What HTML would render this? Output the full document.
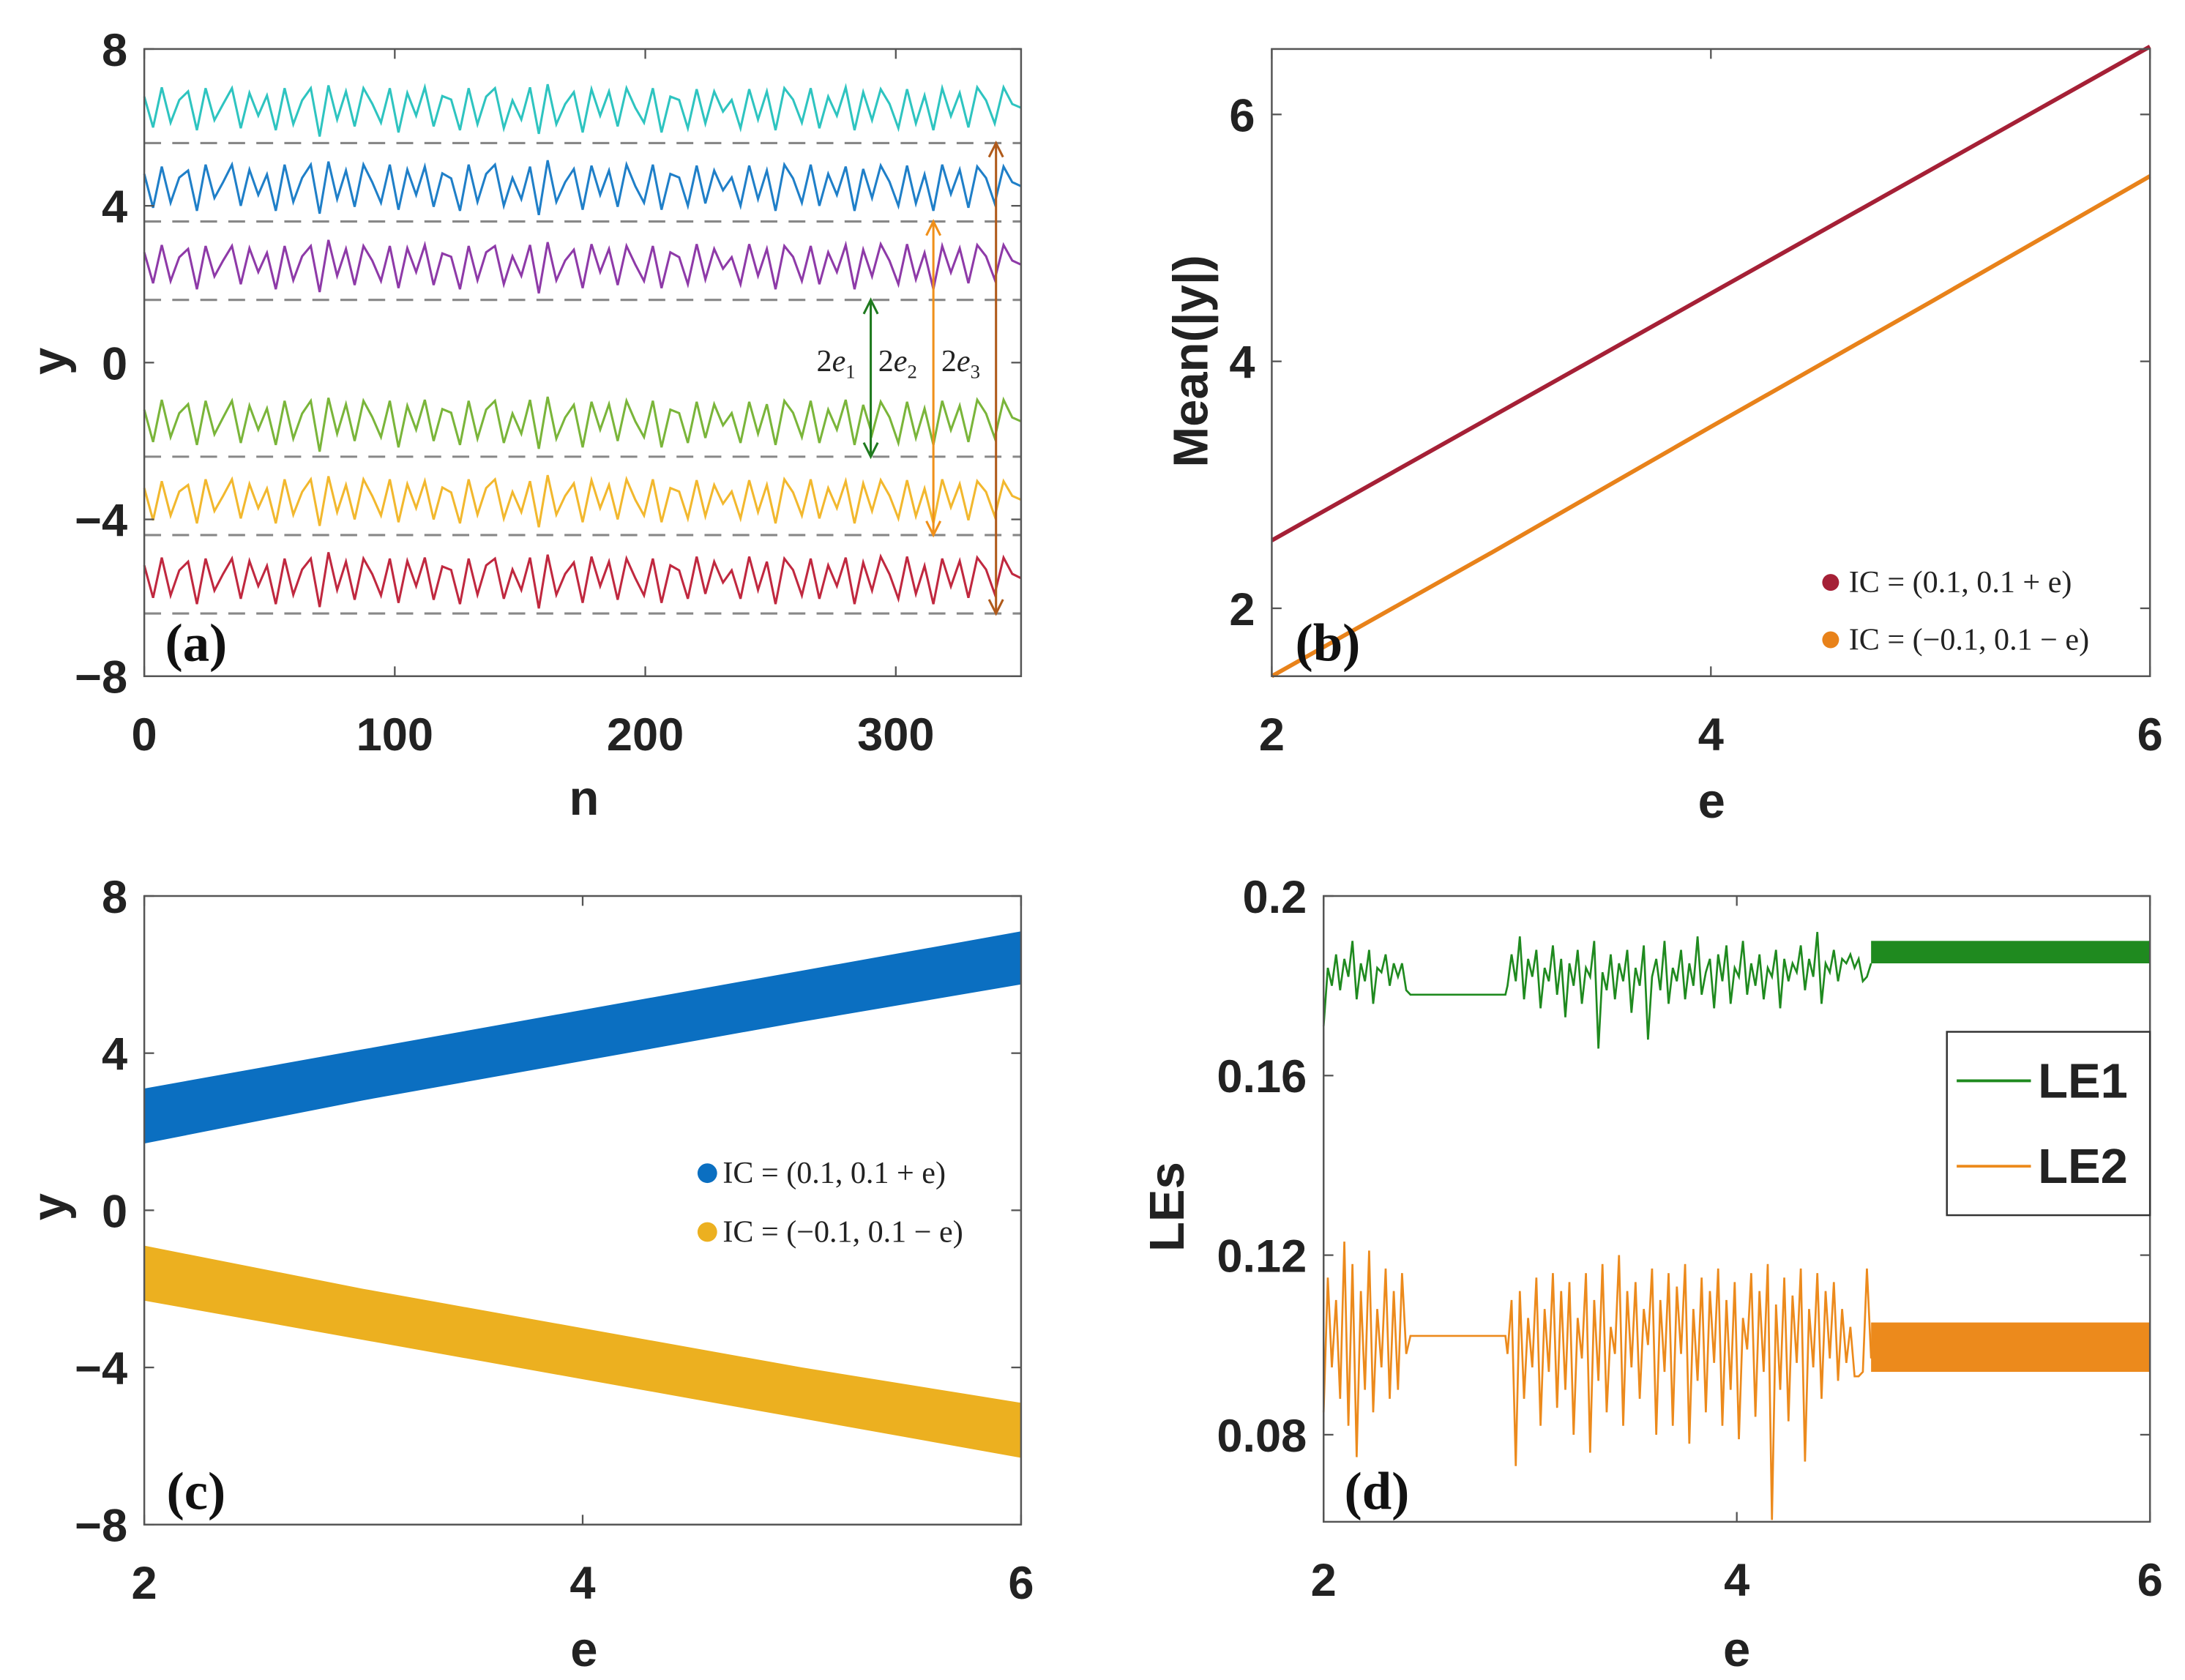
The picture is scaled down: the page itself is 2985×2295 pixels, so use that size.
<!DOCTYPE html>
<html><head><meta charset="utf-8"><style>
html,body{margin:0;padding:0;background:#fff;}
svg{display:block;}
.tk{font-family:"Liberation Sans",Arial,sans-serif;font-weight:bold;font-size:33px;fill:#222;}
.al{font-family:"Liberation Sans",Arial,sans-serif;font-weight:bold;font-size:35px;fill:#222;}
.pl{font-family:"Liberation Serif",serif;font-weight:bold;font-size:38px;fill:#111;}
.lg{font-family:"Liberation Serif",serif;font-size:22px;fill:#222;}
</style></head><body>
<svg id="fig" width="2985" height="2295" viewBox="0 0 1560 1200" preserveAspectRatio="none" xmlns="http://www.w3.org/2000/svg"></svg>
<script>
// ---------- DATA ----------
// Panel (a)
const aNStep = 3.5;
const aPattern = [0.3,-0.5,0.5,-0.4,0.2,0.4,-0.6,0.5,-0.3,0.1,0.5,-0.5,0.4,-0.2,0.3,-0.6,0.5,-0.4,0.2,0.5,
 -0.7,0.6,-0.3,0.4,-0.5,0.5,0.1,-0.4,0.5,-0.6,0.4,-0.2,0.5,-0.5,0.3,0.2,-0.6,0.5,-0.4,0.3,
 0.5,-0.5,0.2,-0.3,0.5,-0.7,0.6,-0.4,0.1,0.4,-0.6,0.5,-0.2,0.4,-0.5,0.5,0.0,-0.4,0.5,-0.6,
 0.3,0.2,-0.5,0.5,-0.4,0.4,-0.1,0.2,-0.5,0.5,-0.3,0.4,-0.6,0.5,0.2,-0.4,0.5,-0.5,0.3,-0.2,
 0.5,-0.6,0.4,-0.3,0.5,0.1,-0.5,0.5,-0.4,0.3,-0.6,0.5,-0.2,0.4,-0.5,0.5,0.2,-0.4,0.5,0.1,0.0];
const aCenters = [6.5,4.5,2.5,-1.5,-3.5,-5.5];
const aColors = ["#2ec4c0","#1f7fc8","#8e3aa8","#7ab53a","#f2b82e","#c0283f"];
const aDashed = [5.6,3.6,1.6,-2.4,-4.4,-6.4];
const aArrowN = [290,315,340];
const aArrowTop = [1.6,3.6,5.6];
const aArrowBot = [-2.4,-4.4,-6.4];
const aArrowColors = ["#1f7a1f","#f0901a","#b05a1a"];
const aXTicks = [0,100,200,300];
const aYTicks = [-8,-4,0,4,8];
// Panel (b)
const bE = [2,3,4,5,6];
const bRed = [2.55,3.55,4.55,5.55,6.55];
const bOrange = [1.45,2.45,3.47,4.48,5.5];
const bXTicks = [2,4,6];
const bYTicks = [2,4,6];
// Panel (c)
const cE = [2,3,4,5,6];
const cBlueHi = [3.1,4.1,5.1,6.1,7.1];
const cBlueLo = [1.7,2.8,3.8,4.8,5.75];
const cYelHi = [-0.9,-2.0,-3.0,-4.0,-4.9];
const cYelLo = [-2.3,-3.3,-4.3,-5.3,-6.3];
const cXTicks = [2,4,6];
const cYTicks = [-8,-4,0,4,8];
// Panel (d)
const dE1 = [2.0,2.02,2.04,2.06,2.08,2.10,2.12,2.14,2.16,2.18,2.20,2.22,2.24,2.26,2.28,2.30,2.32,2.34,2.36,2.38,2.40,2.42,2.6,2.88,2.89,2.91,2.93,2.95,2.97,2.99,3.01,3.03,3.05,3.07,3.09,3.11,3.13,3.15,3.17,3.19,3.21,3.23,3.25,3.27,3.29,3.31,3.33,3.35,3.37,3.39,3.41,3.43,3.45,3.47,3.49,3.51,3.53,3.55,3.57,3.59,3.61,3.63,3.65,3.67,3.69,3.71,3.73,3.75,3.77,3.79,3.81,3.83,3.85,3.87,3.89,3.91,3.93,3.95,3.97,3.99,4.01,4.03,4.05,4.07,4.09,4.11,4.13,4.15,4.17,4.19,4.21,4.23,4.25,4.27,4.29,4.31,4.33,4.35,4.37,4.39,4.41,4.43,4.45,4.47,4.49,4.51,4.53,4.55,4.57,4.59,4.61,4.63,4.65];
const dLE1 = [0.171,0.184,0.180,0.187,0.179,0.186,0.182,0.190,0.177,0.185,0.181,0.188,0.176,0.184,0.183,0.187,0.180,0.185,0.182,0.185,0.179,0.178,0.178,0.178,0.180,0.187,0.181,0.191,0.177,0.186,0.182,0.188,0.175,0.184,0.181,0.189,0.178,0.186,0.173,0.185,0.180,0.188,0.176,0.184,0.182,0.190,0.166,0.183,0.179,0.187,0.177,0.185,0.181,0.188,0.174,0.184,0.180,0.189,0.168,0.182,0.186,0.179,0.190,0.176,0.184,0.181,0.188,0.177,0.185,0.180,0.191,0.178,0.183,0.186,0.175,0.187,0.181,0.189,0.176,0.184,0.182,0.190,0.178,0.185,0.180,0.187,0.177,0.184,0.182,0.188,0.175,0.186,0.181,0.185,0.183,0.189,0.179,0.186,0.182,0.192,0.176,0.185,0.183,0.188,0.181,0.186,0.185,0.187,0.184,0.186,0.181,0.182,0.185];
const dLE2 = [0.085,0.115,0.095,0.110,0.088,0.123,0.082,0.118,0.075,0.112,0.090,0.121,0.085,0.108,0.095,0.117,0.088,0.112,0.090,0.116,0.098,0.102,0.102,0.102,0.098,0.110,0.073,0.112,0.088,0.106,0.095,0.115,0.082,0.108,0.094,0.116,0.086,0.112,0.090,0.114,0.080,0.106,0.097,0.116,0.076,0.110,0.092,0.118,0.085,0.104,0.098,0.120,0.082,0.112,0.095,0.114,0.088,0.108,0.100,0.117,0.080,0.110,0.094,0.116,0.082,0.113,0.098,0.118,0.078,0.108,0.092,0.115,0.085,0.112,0.096,0.117,0.082,0.110,0.090,0.114,0.079,0.106,0.099,0.116,0.084,0.112,0.094,0.118,0.061,0.109,0.090,0.115,0.083,0.111,0.096,0.117,0.074,0.108,0.095,0.116,0.088,0.112,0.097,0.114,0.092,0.108,0.096,0.104,0.093,0.093,0.094,0.117,0.097];
const dBandE = [4.65,6.0];
const dLE1Band = [0.185,0.190];
const dLE2Band = [0.094,0.105];
const dXTicks = [2,4,6];
const dYTicks = [0.08,0.12,0.16,0.2];
const dYTickLabels = ["0.08","0.12","0.16","0.2"];

// ---------- DRAW ----------
const NS="http://www.w3.org/2000/svg";
const svg=document.getElementById('fig');
function el(tag,attrs,parent,text){const e=document.createElementNS(NS,tag);for(const k in attrs)e.setAttribute(k,attrs[k]);if(text!==undefined)e.textContent=text;(parent||svg).appendChild(e);return e;}
function scale(d0,d1,r0,r1){return v=>r0+(v-d0)/(d1-d0)*(r1-r0);}
function axesBox(g,L,T,R,B,xt,yt,X,Y,ytl,name){
  const ax=el('g',{},g);
  
  
  el('rect',{x:L,y:T,width:R-L,height:B-T,fill:'none',stroke:'#555','stroke-width':1.3},ax);
  xt.forEach(v=>{const x=X(v);el('line',{x1:x,x2:x,y1:B,y2:B-7,stroke:'#555','stroke-width':1.2},ax);el('line',{x1:x,x2:x,y1:T,y2:T+7,stroke:'#555','stroke-width':1.2},ax);
    const t=el('text',{x:x,y:B+53,'text-anchor':'middle',class:'tk'},ax,String(v));});
  yt.forEach((v,i)=>{const y=Y(v);el('line',{x1:L,x2:L+7,y1:y,y2:y,stroke:'#555','stroke-width':1.2},ax);el('line',{x1:R,x2:R-7,y1:y,y2:y,stroke:'#555','stroke-width':1.2},ax);
    const s=ytl?ytl[i]:(v<0?'\u2212'+Math.abs(v):String(v));
    const t=el('text',{x:L-12,y:y+12,'text-anchor':'end',class:'tk'},ax,s);});
}
function label(g,x,y,txt,cls,rot,name){const a={x:x,y:y,'text-anchor':'middle',class:cls};if(rot)a.transform='rotate(-90 '+x+' '+y+')';const t=el('text',a,g,txt);return t;}

// Panel a
(function(){
  const L=103,R=729,T=35,B=483;
  const X=scale(0,350,L,R),Y=scale(-8,8,B,T);
  const g=el('g',{});
  aDashed.forEach(v=>{const l=el('line',{x1:L,x2:R,y1:Y(v),y2:Y(v),stroke:'#888','stroke-width':1.6,'stroke-dasharray':'12,8'},g);});
  aCenters.forEach((c,si)=>{
    let d='';
    aPattern.forEach((p,i)=>{const n=i*aNStep;if(n>350)return;const v=c+p*((si%2)?1:0.95)*(1+0.05*((i+si)%3));d+=(d?'L':'M')+X(n).toFixed(1)+','+Y(v).toFixed(1);});
    const pth=el('path',{d:d,fill:'none',stroke:aColors[si],'stroke-width':1.6},g);
    
  });
  aArrowN.forEach((n,i)=>{
    const x=X(n),y1=Y(aArrowTop[i]),y2=Y(aArrowBot[i]),c=aArrowColors[i];
    const ag=el('g',{stroke:c,'stroke-width':1.6,fill:'none'},g);
    
    el('line',{x1:x,x2:x,y1:y1,y2:y2},ag);
    el('path',{d:`M${x-5},${y1+10}L${x},${y1}L${x+5},${y1+10}`},ag);
    el('path',{d:`M${x-5},${y2-10}L${x},${y2}L${x+5},${y2-10}`},ag);
  });
  [['2e','1',583],['2e','2',627],['2e','3',672]].forEach((a)=>{
    const t=el('text',{x:a[2],y:Y(0)+6,class:'lg','font-style':'italic'},g);
    
    el('tspan',{'font-style':'normal'},t,'2');el('tspan',{},t,'e');el('tspan',{'font-size':'14','dy':'5','font-style':'normal'},t,a[1]);
  });
  axesBox(g,L,T,R,B,aXTicks,aYTicks,X,Y,null,'panel-a');
  label(g,417,582,'n','al',false,'x-axis-title');
  label(g,47,258,'y','al',true,'y-axis-title');
  label(g,140,472,'(a)','pl',false,'panel-label');
})();

// Panel b
(function(){
  const L=908,R=1535,T=35,B=483;
  const X=scale(2,6,L,R),Y=scale(1.45,6.53,B,T);
  const g=el('g',{});
  [[bRed,'#a52036','line-ic-positive'],[bOrange,'#e8821a','line-ic-negative']].forEach(s=>{
    const p=el('polyline',{points:bE.map((e,i)=>X(e)+','+Y(s[0][i])).join(' '),fill:'none',stroke:s[1],'stroke-width':3},g);
    
  });
  axesBox(g,L,T,R,B,bXTicks,bYTicks,X,Y,null,'panel-b');
  const lg=el('g',{},g);
  el('circle',{cx:1307,cy:416,r:6,fill:'#a52036'},lg);
  el('text',{x:1320,y:423,class:'lg'},lg,'IC = (0.1, 0.1 + e)');
  el('circle',{cx:1307,cy:457,r:6,fill:'#e8821a'},lg);
  el('text',{x:1320,y:464,class:'lg'},lg,'IC = (\u22120.1, 0.1 \u2212 e)');
  label(g,1222,584,'e','al',false,'x-axis-title');
  label(g,862,258,'Mean(|y|)','al',true,'y-axis-title');
  label(g,948,472,'(b)','pl',false,'panel-label');
})();

// Panel c
(function(){
  const L=103,R=729,T=640,B=1089;
  const X=scale(2,6,L,R),Y=scale(-8,8,B,T);
  const g=el('g',{});
  [[cBlueHi,cBlueLo,'#0b6fc1','band-ic-positive'],[cYelHi,cYelLo,'#ecb020','band-ic-negative']].forEach(s=>{
    const pts=cE.map((e,i)=>X(e)+','+Y(s[0][i])).concat(cE.slice().reverse().map((e,i)=>X(e)+','+Y(s[1][cE.length-1-i])));
    const p=el('polygon',{points:pts.join(' '),fill:s[2]},g);
    
  });
  axesBox(g,L,T,R,B,cXTicks,cYTicks,X,Y,null,'panel-c');
  const lg=el('g',{},g);
  el('circle',{cx:505,cy:838,r:7,fill:'#0b6fc1'},lg);
  el('text',{x:516,y:845,class:'lg'},lg,'IC = (0.1, 0.1 + e)');
  el('circle',{cx:505,cy:880,r:7,fill:'#ecb020'},lg);
  el('text',{x:516,y:887,class:'lg'},lg,'IC = (\u22120.1, 0.1 \u2212 e)');
  label(g,417,1190,'e','al',false,'x-axis-title');
  label(g,47,862,'y','al',true,'y-axis-title');
  label(g,140,1078,'(c)','pl',false,'panel-label');
})();

// Panel d
(function(){
  const L=945,R=1535,T=640,B=1087;
  const X=scale(2,6,L,R),Y=scale(0.0606,0.2,B,T);
  const g=el('g',{});
  [[dLE1,dLE1Band,'#1f8a1f','le1'],[dLE2,dLE2Band,'#ec8a1c','le2']].forEach(s=>{
    const p=el('polyline',{points:dE1.map((e,i)=>X(e).toFixed(1)+','+Y(s[0][i]).toFixed(1)).join(' '),fill:'none',stroke:s[2],'stroke-width':1.4},g);
    
    const r=el('rect',{x:X(dBandE[0]),y:Y(s[1][1]),width:X(dBandE[1])-X(dBandE[0]),height:Y(s[1][0])-Y(s[1][1]),fill:s[2]},g);
    
  });
  axesBox(g,L,T,R,B,dXTicks,dYTicks,X,Y,dYTickLabels,'panel-d');
  const lg=el('g',{},g);
  el('rect',{x:1390,y:737,width:145,height:131,fill:'#fff',stroke:'#333','stroke-width':1.3},lg);
  el('line',{x1:1397,x2:1450,y1:772,y2:772,stroke:'#1f8a1f','stroke-width':2},lg);
  el('text',{x:1455,y:784,class:'al'},lg,'LE1');
  el('line',{x1:1397,x2:1450,y1:833,y2:833,stroke:'#ec8a1c','stroke-width':2},lg);
  el('text',{x:1455,y:845,class:'al'},lg,'LE2');
  label(g,1240,1190,'e','al',false,'x-axis-title');
  label(g,845,862,'LEs','al',true,'y-axis-title');
  label(g,983,1078,'(d)','pl',false,'panel-label');
})();
</script>
</body></html>
